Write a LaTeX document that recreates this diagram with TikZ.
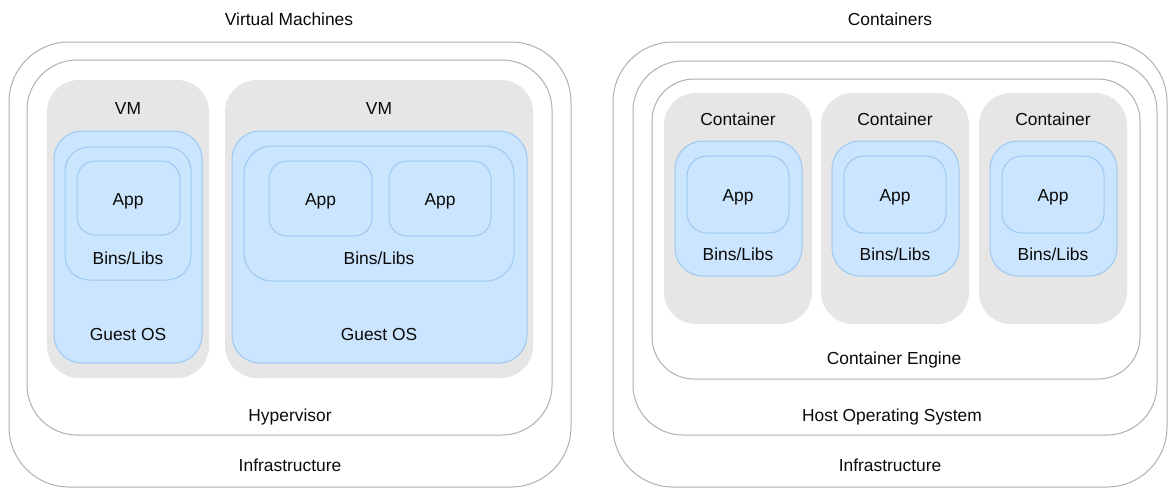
\documentclass[tikz,border=0pt]{standalone}
\usepackage{fontspec}
\setmainfont{Liberation Sans}
\definecolor{frameline}{HTML}{B0B0B0}
\definecolor{grayfill}{HTML}{E6E6E6}
\definecolor{bluefill}{HTML}{CCE5FF}
\definecolor{blueline}{HTML}{9CC8F0}
\definecolor{txt}{HTML}{0A0A0A}
\tikzset{
  frame/.style={draw=frameline, line width=1pt, fill=white},
  vmbox/.style={fill=grayfill, draw=none},
  bluebox/.style={fill=bluefill, draw=blueline, line width=1pt},
  lbl/.style={text=txt, inner sep=0pt, anchor=base, font=\fontsize{17.4}{20}\selectfont},
}
% \RBox{name}{x1}{y1}{x2}{y2}{radius}{style}
\newcommand{\RBox}[7]{%
  \node[#7, rounded corners=#6pt, inner sep=0pt, outer sep=0pt,
        minimum width={((#4)-(#2))*1pt}, minimum height={((#5)-(#3))*1pt}]
        (#1) at ({((#2)+(#4))/2},{((#3)+(#5))/2}) {};}
\begin{document}
\begin{tikzpicture}[x=1pt,y=-1pt]
\useasboundingbox[fill=white] (0,0) rectangle (1168,488);

% ---------- Virtual Machines ----------
\node[lbl] (vmtitle) at (289,25.5) {Virtual Machines};
\RBox{infraL}{9}{42}{571}{487}{60}{frame}
\RBox{hyper}{27}{60}{552}{435}{50}{frame}
\node[lbl] (infraLt) at (290,471) {Infrastructure};
\node[lbl] (hypert) at (290,421) {Hypervisor};

% VM 1
\RBox{vm1}{47}{80}{209}{378}{32}{vmbox}
\node[lbl] (vm1t) at (128,114.5) {VM};
\RBox{os1}{54}{131}{202}{363}{28}{bluebox}
\node[lbl] (os1t) at (128,340) {Guest OS};
\RBox{bl1}{65}{147}{191}{280}{24}{bluebox}
\node[lbl] (bl1t) at (128,264) {Bins/Libs};
\RBox{app1}{77}{161}{180}{235}{18}{bluebox}
\node[lbl] (app1t) at (128,205) {App};

% VM 2
\RBox{vm2}{225}{80}{533}{378}{32}{vmbox}
\node[lbl] (vm2t) at (379,114.5) {VM};
\RBox{os2}{232}{131}{527}{363}{28}{bluebox}
\node[lbl] (os2t) at (379,340) {Guest OS};
\RBox{bl2}{244}{146}{514}{281}{28}{bluebox}
\node[lbl] (bl2t) at (379,264) {Bins/Libs};
\RBox{app2}{269}{161}{372}{236}{18}{bluebox}
\node[lbl] (app2t) at (320.5,205) {App};
\RBox{app3}{389}{161}{491}{236}{18}{bluebox}
\node[lbl] (app3t) at (440,205) {App};

% ---------- Containers ----------
\node[lbl] (ctitle) at (890,25.5) {Containers};
\RBox{infraR}{613}{42}{1167}{487}{60}{frame}
\RBox{host}{633}{61}{1157}{435}{50}{frame}
\RBox{engine}{652}{79}{1140}{379}{42}{frame}
\node[lbl] (infraRt) at (890,471) {Infrastructure};
\node[lbl] (hostt) at (892,421) {Host Operating System};
\node[lbl] (enginet) at (894,364) {Container Engine};

\foreach \i/\x in {1/664, 2/821, 3/979}{
  \RBox{ct\i}{\x}{93}{\x+148}{324}{32}{vmbox}
  \node[lbl] (ct\i t) at (\x+74,125.5) {Container};
  \RBox{cb\i}{\x+11}{141}{\x+138}{276}{28}{bluebox}
  \node[lbl] (cb\i t) at (\x+74,260) {Bins/Libs};
  \RBox{ca\i}{\x+23}{156}{\x+125}{233}{20}{bluebox}
  \node[lbl] (ca\i t) at (\x+74,201) {App};
}
\end{tikzpicture}
\end{document}
